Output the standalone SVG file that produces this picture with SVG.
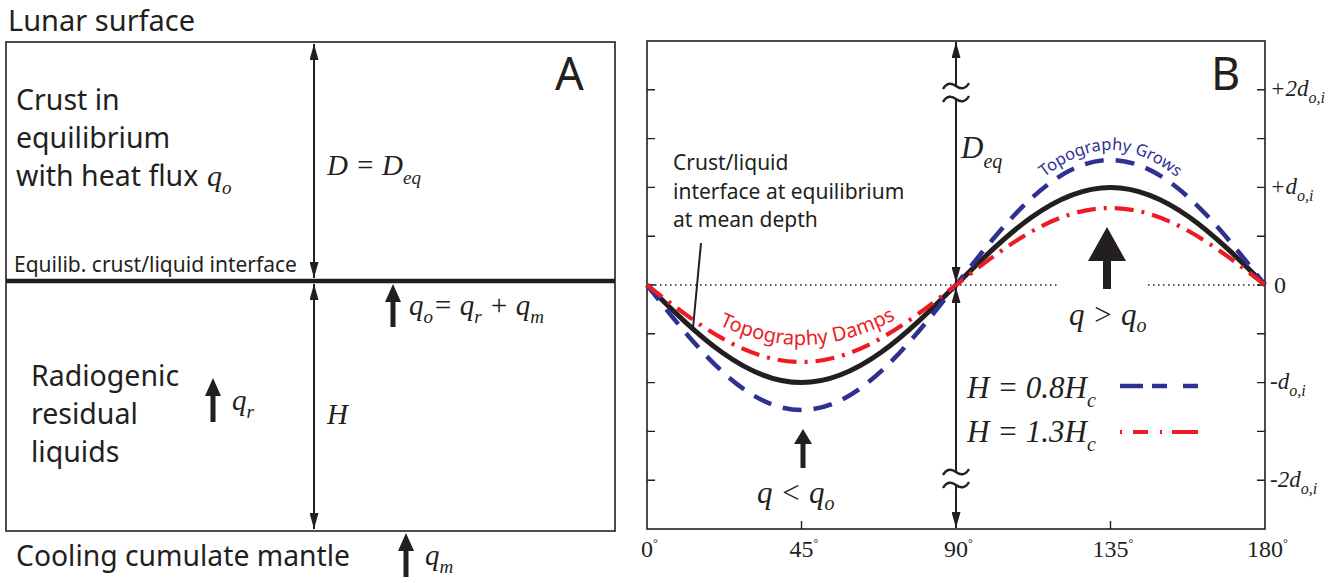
<svg xmlns="http://www.w3.org/2000/svg" width="1339" height="583" viewBox="0 0 1339 583">
<style>
.s{font-family:"Noto Sans","Liberation Sans",sans-serif;fill:#231f20}
.m{font-family:"Liberation Serif","Times New Roman",serif;font-style:italic;fill:#231f20}
.r{font-family:"Liberation Serif","Times New Roman",serif;fill:#231f20}
.ln{stroke:#231f20;fill:none}
.ar{fill:#231f20}
.dbl{stroke:#231f20;stroke-width:2;fill:none}
.blue{stroke:#2e3192;stroke-width:4.5;fill:none;stroke-dasharray:19 12}
.red{stroke:#ed1c24;stroke-width:4.2;fill:none;stroke-dasharray:19 8 3 8}
</style>
<defs>
<marker id="ah" viewBox="0 0 16 9" refX="16" refY="4.5" markerWidth="16" markerHeight="9" markerUnits="userSpaceOnUse" orient="auto-start-reverse"><path d="M0,0 L16,4.5 L0,9 z" fill="#231f20"/></marker>
<path id="damps" d="M647,285 C697.39,315.74 745.59,345 801.5,345 C857.41,345 905.61,315.74 956,285"/>
<path id="grows" d="M956,275 C1006.39,210.96 1054.59,150 1110.5,150 C1166.41,150 1214.61,210.96 1265,275"/>
</defs>
<rect width="1339" height="583" fill="#fff"/>

<g id="panelA">
<text class="s" x="8" y="31" font-size="29">Lunar surface</text>
<rect id="boxA" x="6" y="42" width="609" height="489" class="ln" stroke-width="1.6"/>
<line id="interface" x1="6" y1="281" x2="615" y2="281" class="ln" stroke-width="4.5"/>
<text class="s" x="555" y="90" font-size="45">A</text>
<g id="crust">
<text class="s" x="16" y="110" font-size="28.5">Crust in</text>
<text class="s" x="16" y="148" font-size="28.5">equilibrium</text>
<text class="s" x="16" y="186" font-size="28.5">with heat flux</text>
<text class="m" x="207" y="186" font-size="30">q<tspan font-size="19" dy="8">o</tspan></text>
</g>
<text class="m" x="327" y="175" font-size="29">D = D<tspan font-size="19" dy="9">eq</tspan></text>
<text class="s" x="14" y="272" font-size="21">Equilib. crust/liquid interface</text>
<g id="liquids">
<text class="s" x="31" y="386" font-size="28.5">Radiogenic</text>
<text class="s" x="31" y="424" font-size="28.5">residual</text>
<text class="s" x="31" y="462" font-size="28.5">liquids</text>
</g>
<text class="m" x="409" y="315" font-size="29">q<tspan font-size="19" dy="8">o</tspan><tspan dy="-8">= q</tspan><tspan font-size="19" dy="8">r</tspan><tspan dy="-8"> + q</tspan><tspan font-size="19" dy="8">m</tspan></text>
<text class="m" x="232" y="410" font-size="29">q<tspan font-size="19" dy="8">r</tspan></text>
<text class="m" x="327" y="424" font-size="29">H</text>
<text class="s" x="16" y="566" font-size="28.3">Cooling cumulate mantle</text>
<text class="m" x="425" y="565" font-size="29">q<tspan font-size="19" dy="8">m</tspan></text>
</g>

<g id="panelB">
<rect id="frameB" x="647" y="41" width="618" height="488" class="ln" stroke-width="1.6"/>
<path id="ticks" class="ln" stroke-width="1.4" d="M647,89.8h8M647,138.6h8M647,187.4h8M647,236.2h8M647,285h8M647,333.8h8M647,382.6h8M647,431.4h8M647,480.2h8M1265,89.8h-8M1265,138.6h-8M1265,187.4h-8M1265,236.2h-8M1265,285h-8M1265,333.8h-8M1265,382.6h-8M1265,431.4h-8M1265,480.2h-8M801.5,529v-8M1110.5,529v-8"/>
<path id="zero" class="ln" stroke-width="1.5" stroke-dasharray="1.5 3.5" d="M650,285H1060M1148,285H1263"/>
<path id="eq" class="ln" stroke-width="5" d="M647,285 C697.39,335 745.59,382.6 801.5,382.6 C857.41,382.6 905.61,335 956,285 C1006.39,235 1054.59,187.4 1110.5,187.4 C1166.41,187.4 1214.61,235 1265,285"/>
<path id="h08" class="blue" d="M647,285 C697.39,349.04 745.59,410 801.5,410 C857.41,410 905.61,349.04 956,285 C1006.39,220.96 1054.59,160 1110.5,160 C1166.41,160 1214.61,220.96 1265,285"/>
<path id="h13" class="red" d="M647,285 C697.39,324.45 745.59,362 801.5,362 C857.41,362 905.61,324.45 956,285 C1006.39,245.55 1054.59,208 1110.5,208 C1166.41,208 1214.61,245.55 1265,285"/>
<text class="s" font-size="20" style="fill:#ed1c24"><textPath href="#damps" startOffset="52%" text-anchor="middle">Topography Damps</textPath></text>
<text class="s" font-size="16.5" style="fill:#2e3192"><textPath href="#grows" startOffset="50%" text-anchor="middle">Topography Grows</textPath></text>
<text class="s" x="1211" y="90" font-size="45">B</text>
<g id="note">
<text class="s" x="673" y="170" font-size="21">Crust/liquid</text>
<text class="s" x="673" y="199" font-size="21">interface at equilibrium</text>
<text class="s" x="673" y="227" font-size="21">at mean depth</text>
</g>
<text class="m" x="961" y="158" font-size="31">D<tspan font-size="20" dy="10">eq</tspan></text>
<text class="m" x="967" y="398" font-size="31">H = 0.8H<tspan font-size="20" dy="9">c</tspan></text>
<text class="m" x="967" y="442" font-size="31">H = 1.3H<tspan font-size="20" dy="9">c</tspan></text>
<line x1="1120" y1="386" x2="1198" y2="386" stroke="#2e3192" stroke-width="4.5" stroke-dasharray="23 9 15 16 15 100"/>
<line x1="1120" y1="432" x2="1198" y2="432" stroke="#ed1c24" stroke-width="4.2" stroke-dasharray="2 11 15 12 2 10 26 100"/>
<text class="m" x="1069" y="325" font-size="31">q &gt; q<tspan font-size="20" dy="7">o</tspan></text>
<text class="m" x="757" y="503" font-size="31">q &lt; q<tspan font-size="20" dy="7">o</tspan></text>
<g id="yaxis">
<text class="m" x="1270" y="96" font-size="23">+2d<tspan font-size="16" dy="7">o,i</tspan></text>
<text class="m" x="1270" y="194" font-size="23">+d<tspan font-size="16" dy="7">o,i</tspan></text>
<text class="r" x="1274" y="293" font-size="24">0</text>
<text class="m" x="1270" y="389" font-size="23">-d<tspan font-size="16" dy="7">o,i</tspan></text>
<text class="m" x="1270" y="487" font-size="23">-2d<tspan font-size="16" dy="7">o,i</tspan></text>
</g>
<g id="xaxis">
<text class="r" x="641" y="557" font-size="24">0<tspan font-size="12" dy="-10">°</tspan></text>
<text class="r" x="789.5" y="557" font-size="24">45<tspan font-size="12" dy="-10">°</tspan></text>
<text class="r" x="944" y="557" font-size="24">90<tspan font-size="12" dy="-10">°</tspan></text>
<text class="r" x="1092.5" y="557" font-size="24">135<tspan font-size="12" dy="-10">°</tspan></text>
<text class="r" x="1247" y="557" font-size="24">180<tspan font-size="12" dy="-10">°</tspan></text>
</g>
</g>

<g id="connectors">
<line class="dbl" x1="314" y1="44" x2="314" y2="278" marker-start="url(#ah)" marker-end="url(#ah)"/>
<line class="dbl" x1="314" y1="284" x2="314" y2="529" marker-start="url(#ah)" marker-end="url(#ah)"/>
<path class="ar" d="M393,284 L401,302 L395.5,302 L395.5,327 L390.5,327 L390.5,302 L385,302 Z"/>
<path class="ar" d="M213,378 L221,396 L215.5,396 L215.5,422 L210.5,422 L210.5,396 L205,396 Z"/>
<path class="ar" d="M406,533 L414,551 L408.5,551 L408.5,577 L403.5,577 L403.5,551 L398,551 Z"/>
<line class="dbl" x1="956" y1="42" x2="956" y2="86" marker-start="url(#ah)"/>
<line class="dbl" x1="956" y1="99" x2="956" y2="283" marker-end="url(#ah)"/>
<line class="dbl" x1="956" y1="287" x2="956" y2="472" marker-start="url(#ah)"/>
<line class="dbl" x1="956" y1="485" x2="956" y2="528" marker-end="url(#ah)"/>
<path class="ln" stroke-width="2.4" d="M943,89 C947,82 952,83 956,86 C960,89 965,90 969,83 M943,102 C947,95 952,96 956,99 C960,102 965,103 969,96"/>
<path class="ln" stroke-width="2.4" d="M943,475 C947,468 952,469 956,472 C960,475 965,476 969,469 M943,488 C947,481 952,482 956,485 C960,488 965,489 969,482"/>
<path class="ar" d="M803,429 L812,444 L805.5,444 L805.5,468 L800.5,468 L800.5,444 L794,444 Z"/>
<path class="ar" d="M1107,227 L1126,261 L1111,261 L1111,289 L1103,289 L1103,261 L1088,261 Z"/>
<line class="ln" stroke-width="2" x1="701" y1="243" x2="693" y2="328"/>
</g>
</svg>
